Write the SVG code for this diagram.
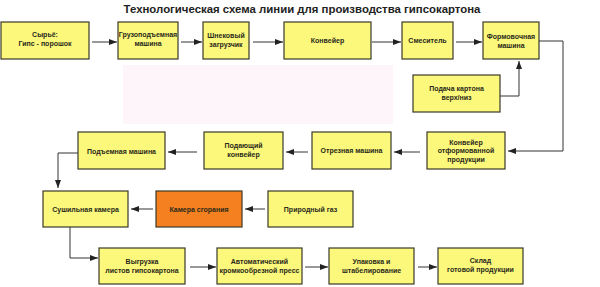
<svg xmlns="http://www.w3.org/2000/svg" width="600" height="287" viewBox="0 0 600 287">
<defs>
<style>
.box{fill:#fbf87c;stroke:#3b3a28;stroke-width:1.2}
.hot{fill:#f5801f;stroke:#3b3a28;stroke-width:1.2}
.t{font-family:"Liberation Sans",Arial,sans-serif;font-size:7px;font-weight:bold;fill:#2a2a1a;text-anchor:middle}
.title{font-family:"Liberation Sans",Arial,sans-serif;font-size:11.4px;font-weight:bold;fill:#222;text-anchor:middle}
.c{fill:none;stroke:#333;stroke-width:1}
</style>
<marker id="ah" viewBox="0 0 8 6" refX="8" refY="3" markerWidth="8" markerHeight="6" markerUnits="userSpaceOnUse" orient="auto">
<path d="M0,0 L8,3 L0,6 Z" fill="#222"/>
</marker>
</defs>
<rect width="600" height="287" fill="#ffffff"/>
<rect x="123" y="65" width="270" height="59" fill="#fdf5fa"/>
<text class="title" x="302" y="13">Технологическая схема линии для производства гипсокартона</text>

<g id="connectors">
<path class="c" d="M92,42 H117" marker-end="url(#ah)"/>
<path class="c" d="M181,42 H202" marker-end="url(#ah)"/>
<path class="c" d="M253,42 H283" marker-end="url(#ah)"/>
<path class="c" d="M372,42 H401" marker-end="url(#ah)"/>
<path class="c" d="M456,42 H482" marker-end="url(#ah)"/>
<path class="c" d="M539,41 H563 V151 H508" marker-end="url(#ah)"/>
<path class="c" d="M500,96 H519 V61" marker-end="url(#ah)"/>
<path class="c" d="M420,152 H394" marker-end="url(#ah)"/>
<path class="c" d="M308,152 H286" marker-end="url(#ah)"/>
<path class="c" d="M197,152 H168" marker-end="url(#ah)"/>
<path class="c" d="M78,153 H58 V188" marker-end="url(#ah)"/>
<path class="c" d="M265,209 H245" marker-end="url(#ah)"/>
<path class="c" d="M153,209 H131" marker-end="url(#ah)"/>
<path class="c" d="M70,227 V258 H98" marker-end="url(#ah)"/>
<path class="c" d="M190,267 H216" marker-end="url(#ah)"/>
<path class="c" d="M305,267 H328" marker-end="url(#ah)"/>
<path class="c" d="M418,267 H437" marker-end="url(#ah)"/>
</g>

<g id="n1"><rect class="box" x="1" y="22" width="88" height="37"/><text class="t" x="45" y="37">Сырьё:</text><text class="t" x="45" y="46">Гипс - порошок</text></g>
<g id="n2"><rect class="box" x="118" y="22" width="60" height="37"/><text class="t" x="148" y="37">Грузоподъемная</text><text class="t" x="148" y="46">машина</text></g>
<g id="n3"><rect class="box" x="203" y="22" width="46" height="37"/><text class="t" x="226" y="38">Шнековый</text><text class="t" x="226" y="47">загрузчик</text></g>
<g id="n4"><rect class="box" x="284" y="22" width="87" height="37"/><text class="t" x="327.5" y="43">Конвейер</text></g>
<g id="n5"><rect class="box" x="402" y="22" width="51" height="37"/><text class="t" x="427.5" y="43">Смеситель</text></g>
<g id="n6"><rect class="box" x="483" y="22" width="56" height="37"/><text class="t" x="511" y="39">Формовочная</text><text class="t" x="511" y="48">машина</text></g>
<g id="n7"><rect class="box" x="413" y="75" width="87" height="37"/><text class="t" x="456.5" y="91">Подача картона</text><text class="t" x="456.5" y="100">верх/низ</text></g>
<g id="n8"><rect class="box" x="427" y="132" width="78" height="37"/><text class="t" x="466" y="144.5">Конвейер</text><text class="t" x="466" y="153">отформованной</text><text class="t" x="466" y="162">продукции</text></g>
<g id="n9"><rect class="box" x="312" y="132" width="79" height="37"/><text class="t" x="351.5" y="153">Отрезная машина</text></g>
<g id="n10"><rect class="box" x="204" y="132" width="79" height="37"/><text class="t" x="243.5" y="148">Подающий</text><text class="t" x="243.5" y="157">конвейер</text></g>
<g id="n11"><rect class="box" x="78" y="132" width="87" height="37"/><text class="t" x="121.5" y="154">Подъемная машина</text></g>
<g id="n12"><rect class="box" x="43" y="191" width="85" height="36"/><text class="t" x="85.5" y="212">Сушильная камера</text></g>
<g id="n13"><rect class="hot" x="156" y="191" width="86" height="36"/><text class="t" x="199" y="212">Камера сгорания</text></g>
<g id="n14"><rect class="box" x="268" y="191" width="85" height="36"/><text class="t" x="310.5" y="212">Природный газ</text></g>
<g id="n15"><rect class="box" x="99" y="248" width="86" height="36"/><text class="t" x="142" y="264">Выгрузка</text><text class="t" x="142" y="273">листов гипсокартона</text></g>
<g id="n16"><rect class="box" x="217" y="248" width="85" height="36"/><text class="t" x="259.5" y="264">Автоматический</text><text class="t" x="259.5" y="273">кромкообрезной пресс</text></g>
<g id="n17"><rect class="box" x="329" y="248" width="85" height="36"/><text class="t" x="371.5" y="264">Упаковка и</text><text class="t" x="371.5" y="273">штабелирование</text></g>
<g id="n18"><rect class="box" x="438" y="248" width="85" height="36"/><text class="t" x="480.5" y="263">Склад</text><text class="t" x="480.5" y="272">готовой продукции</text></g>
</svg>
